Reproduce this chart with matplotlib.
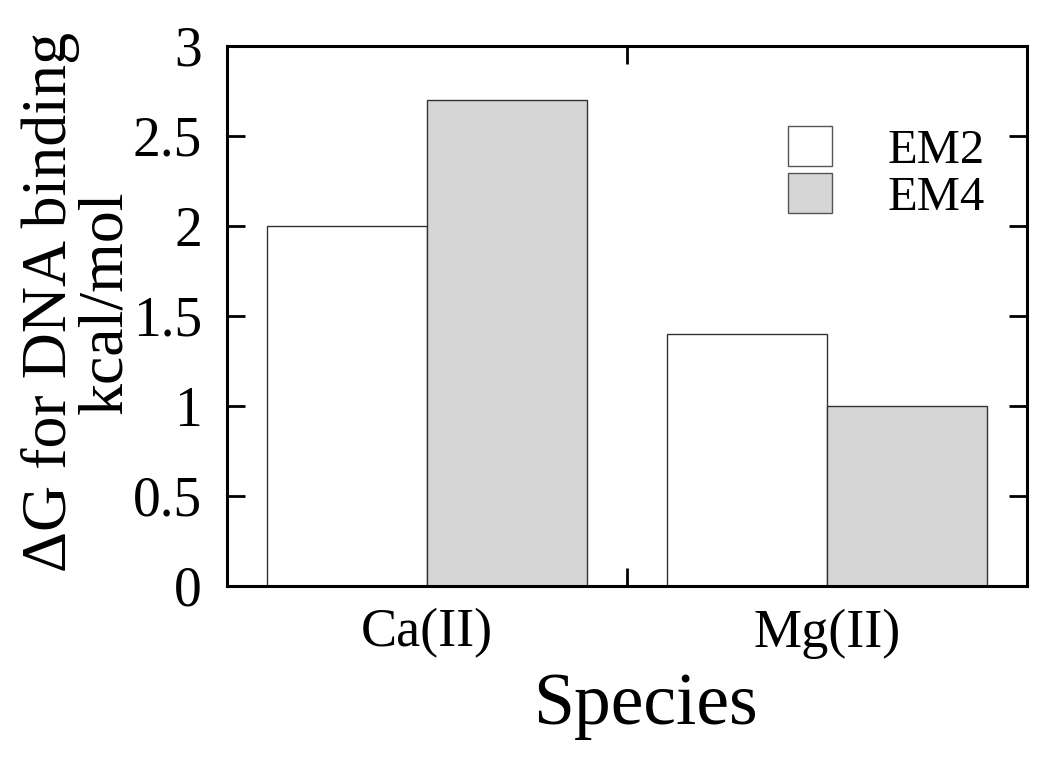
import matplotlib
matplotlib.use("Agg")
import matplotlib.pyplot as plt
import numpy as np
from matplotlib.patches import Patch

categories = ["Ca(II)", "Mg(II)"]
series_names = ["EM2", "EM4"]
em2 = [2.0, 1.4]
em4 = [2.7, 1.0]
yticks = [0, 0.5, 1, 1.5, 2, 2.5, 3]
ytick_labels = ["0", "0.5", "1", "1.5", "2", "2.5", "3"]

plt.rcParams['font.family'] = ['Liberation Serif', 'DejaVu Serif']

fig = plt.figure(figsize=(10.5, 7.67), dpi=100)
ax = fig.add_axes([227/1050, 1-586/767, 800/1050, 540/767])

x = np.arange(len(categories))
w = 0.4
ax.bar(x - w/2, em2, width=w, color='white', edgecolor='#333333', linewidth=1.0)
ax.bar(x + w/2, em4, width=w, color='#d6d6d6', edgecolor='#333333', linewidth=1.0)

ax.set_xlim(-0.5, 1.5)
ax.set_ylim(0, 3)
ax.set_yticks(yticks)
ax.set_yticklabels(ytick_labels)
ax.set_xticks(x)
ax.set_xticklabels(categories)
ax.set_xticks([0.5], minor=True)

ax.tick_params(axis='y', which='major', direction='in', length=13, width=2,
               right=True, labelsize=40, pad=18)
ax.tick_params(axis='x', which='major', length=0, labelsize=39, pad=16)
ax.tick_params(axis='x', which='minor', direction='in', length=13, width=2, top=True, bottom=True)
for s in ax.spines.values():
    s.set_linewidth(2.2)

ax.set_xlabel("Species", fontsize=53)
ax.xaxis.set_label_coords((645-227)/800, -0.161)
ax.set_ylabel("ΔG for DNA binding\nkcal/mol", fontsize=46, linespacing=0.93)
ax.yaxis.set_label_coords(-0.115, 0.526)

handles = [Patch(facecolor='white', edgecolor='#555555', linewidth=1.0),
           Patch(facecolor='#d6d6d6', edgecolor='#555555', linewidth=1.0)]
ax.legend(handles, series_names, loc='upper right', bbox_to_anchor=(0.9475, 0.852),
          frameon=False, fontsize=35, handlelength=0.9, handleheight=0.9,
          handletextpad=1.15, labelspacing=0.0, borderaxespad=0.0, borderpad=0.0)

fig.savefig("out.png", dpi=100)
